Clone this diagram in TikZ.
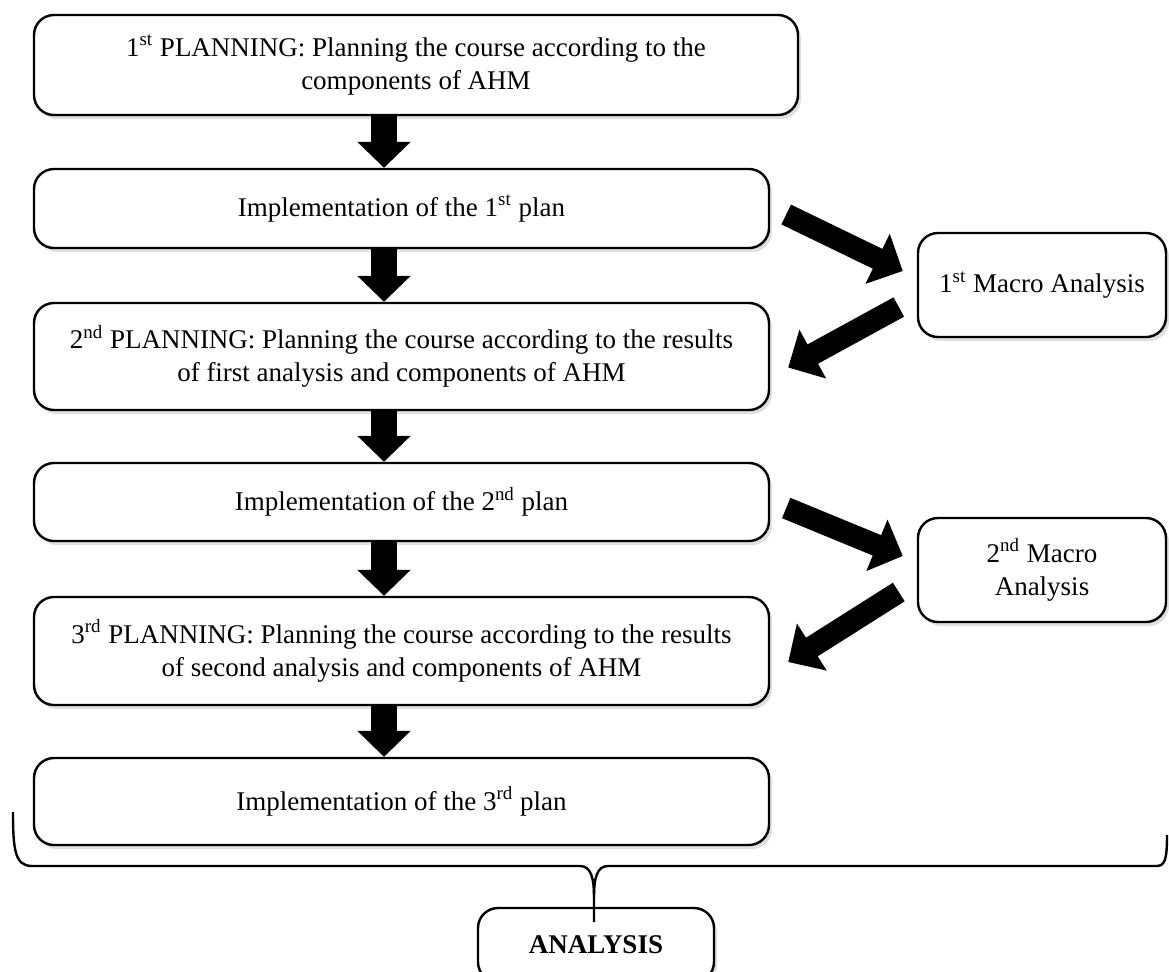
\documentclass[tikz,border=0pt]{standalone}
\usepackage{fontspec}
\setmainfont{Liberation Serif}
\usetikzlibrary{positioning,arrows.meta,shadows}
\tikzset{
        boxnode/.style={align=center,inner sep=0pt,rounded corners=10pt,draw=black,line width=1.2pt,fill=white,
                font=\fontsize{13.5}{16.5}\selectfont,
                drop shadow={shadow xshift=1.5pt,shadow yshift=-2pt,opacity=0.25}},
        % Planning and implementation steps
        node_plan/.style={boxnode, minimum width=367.5pt},
        % Macro analyses on the side
        node_macro/.style={boxnode, minimum width=124pt, minimum height=52pt},
        % Final analysis
        node_final/.style={boxnode, minimum width=118pt, minimum height=37pt, font=\fontsize{13.5}{16.5}\selectfont\bfseries},
        % Thick block arrows
        arrow_down/.style={-{Triangle[width=26pt,length=13pt]}, line width=13pt},
        arrow_side/.style={-{Triangle[width=27pt,length=14pt]}, line width=11pt}
}
\begin{document}
\begin{tikzpicture}[x=0.5pt, y=-0.5pt]
            \useasboundingbox (0,0) rectangle (1169,971);
            \node[node_plan, minimum width=382pt, minimum height=50pt] (plan1) at (416,65)
                {1\textsuperscript{st} PLANNING: Planning the course according to the\\components of AHM};
            \node[node_plan, minimum height=39.5pt] (impl1) at (401.5,208.5)
                {Implementation of the 1\textsuperscript{st} plan};
            \node[node_plan, minimum height=53.5pt] (plan2) at (401.5,356.5)
                {2\textsuperscript{nd} PLANNING: Planning the course according to the results\\of first analysis and components of AHM};
            \node[node_plan, minimum height=39pt] (impl2) at (401.5,502)
                {Implementation of the 2\textsuperscript{nd} plan};
            \node[node_plan, minimum height=54pt] (plan3) at (401.5,651)
                {3\textsuperscript{rd} PLANNING: Planning the course according to the results\\of second analysis and components of AHM};
            \node[node_plan, minimum height=43.5pt] (impl3) at (401.5,801.5)
                {Implementation of the 3\textsuperscript{rd} plan};
            \node[node_macro] (macro1) at (1042,285) {1\textsuperscript{st} Macro Analysis};
            \node[node_macro] (macro2) at (1042,570) {2\textsuperscript{nd} Macro\\Analysis};
            \node[node_final] (analysis) at (596,945) {ANALYSIS};

            \coordinate (axis) at (384,0);
            \foreach \a/\b in {plan1/impl1, impl1/plan2, plan2/impl2, impl2/plan3, plan3/impl3}
                \draw[arrow_down] (\a.south -| axis) -- (\b.north -| axis);

            \foreach \i/\m/\p in {impl1/macro1/plan2, impl2/macro2/plan3} {
                \draw[arrow_side] ([shift={(16,6)}]\i.east) -- ([shift={(-14,-14)}]\m.west);
                \draw[arrow_side] ([shift={(-18,22)}]\m.west) -- ([shift={(18,11)}]\p.east);
            }

            % brace over all steps
            \draw[line width=1.2pt] (13,812) .. controls (13,850) and (15,866) .. (32,866) -- (580,866)
                .. controls (591,866) and (594,878) .. (594,897) -- (594,922);
            \draw[line width=1.2pt] (1167,835) .. controls (1167,860) and (1165,866) .. (1156,866) -- (608,866)
                .. controls (597,866) and (594,878) .. (594,897);
        \end{tikzpicture}
\end{document}
